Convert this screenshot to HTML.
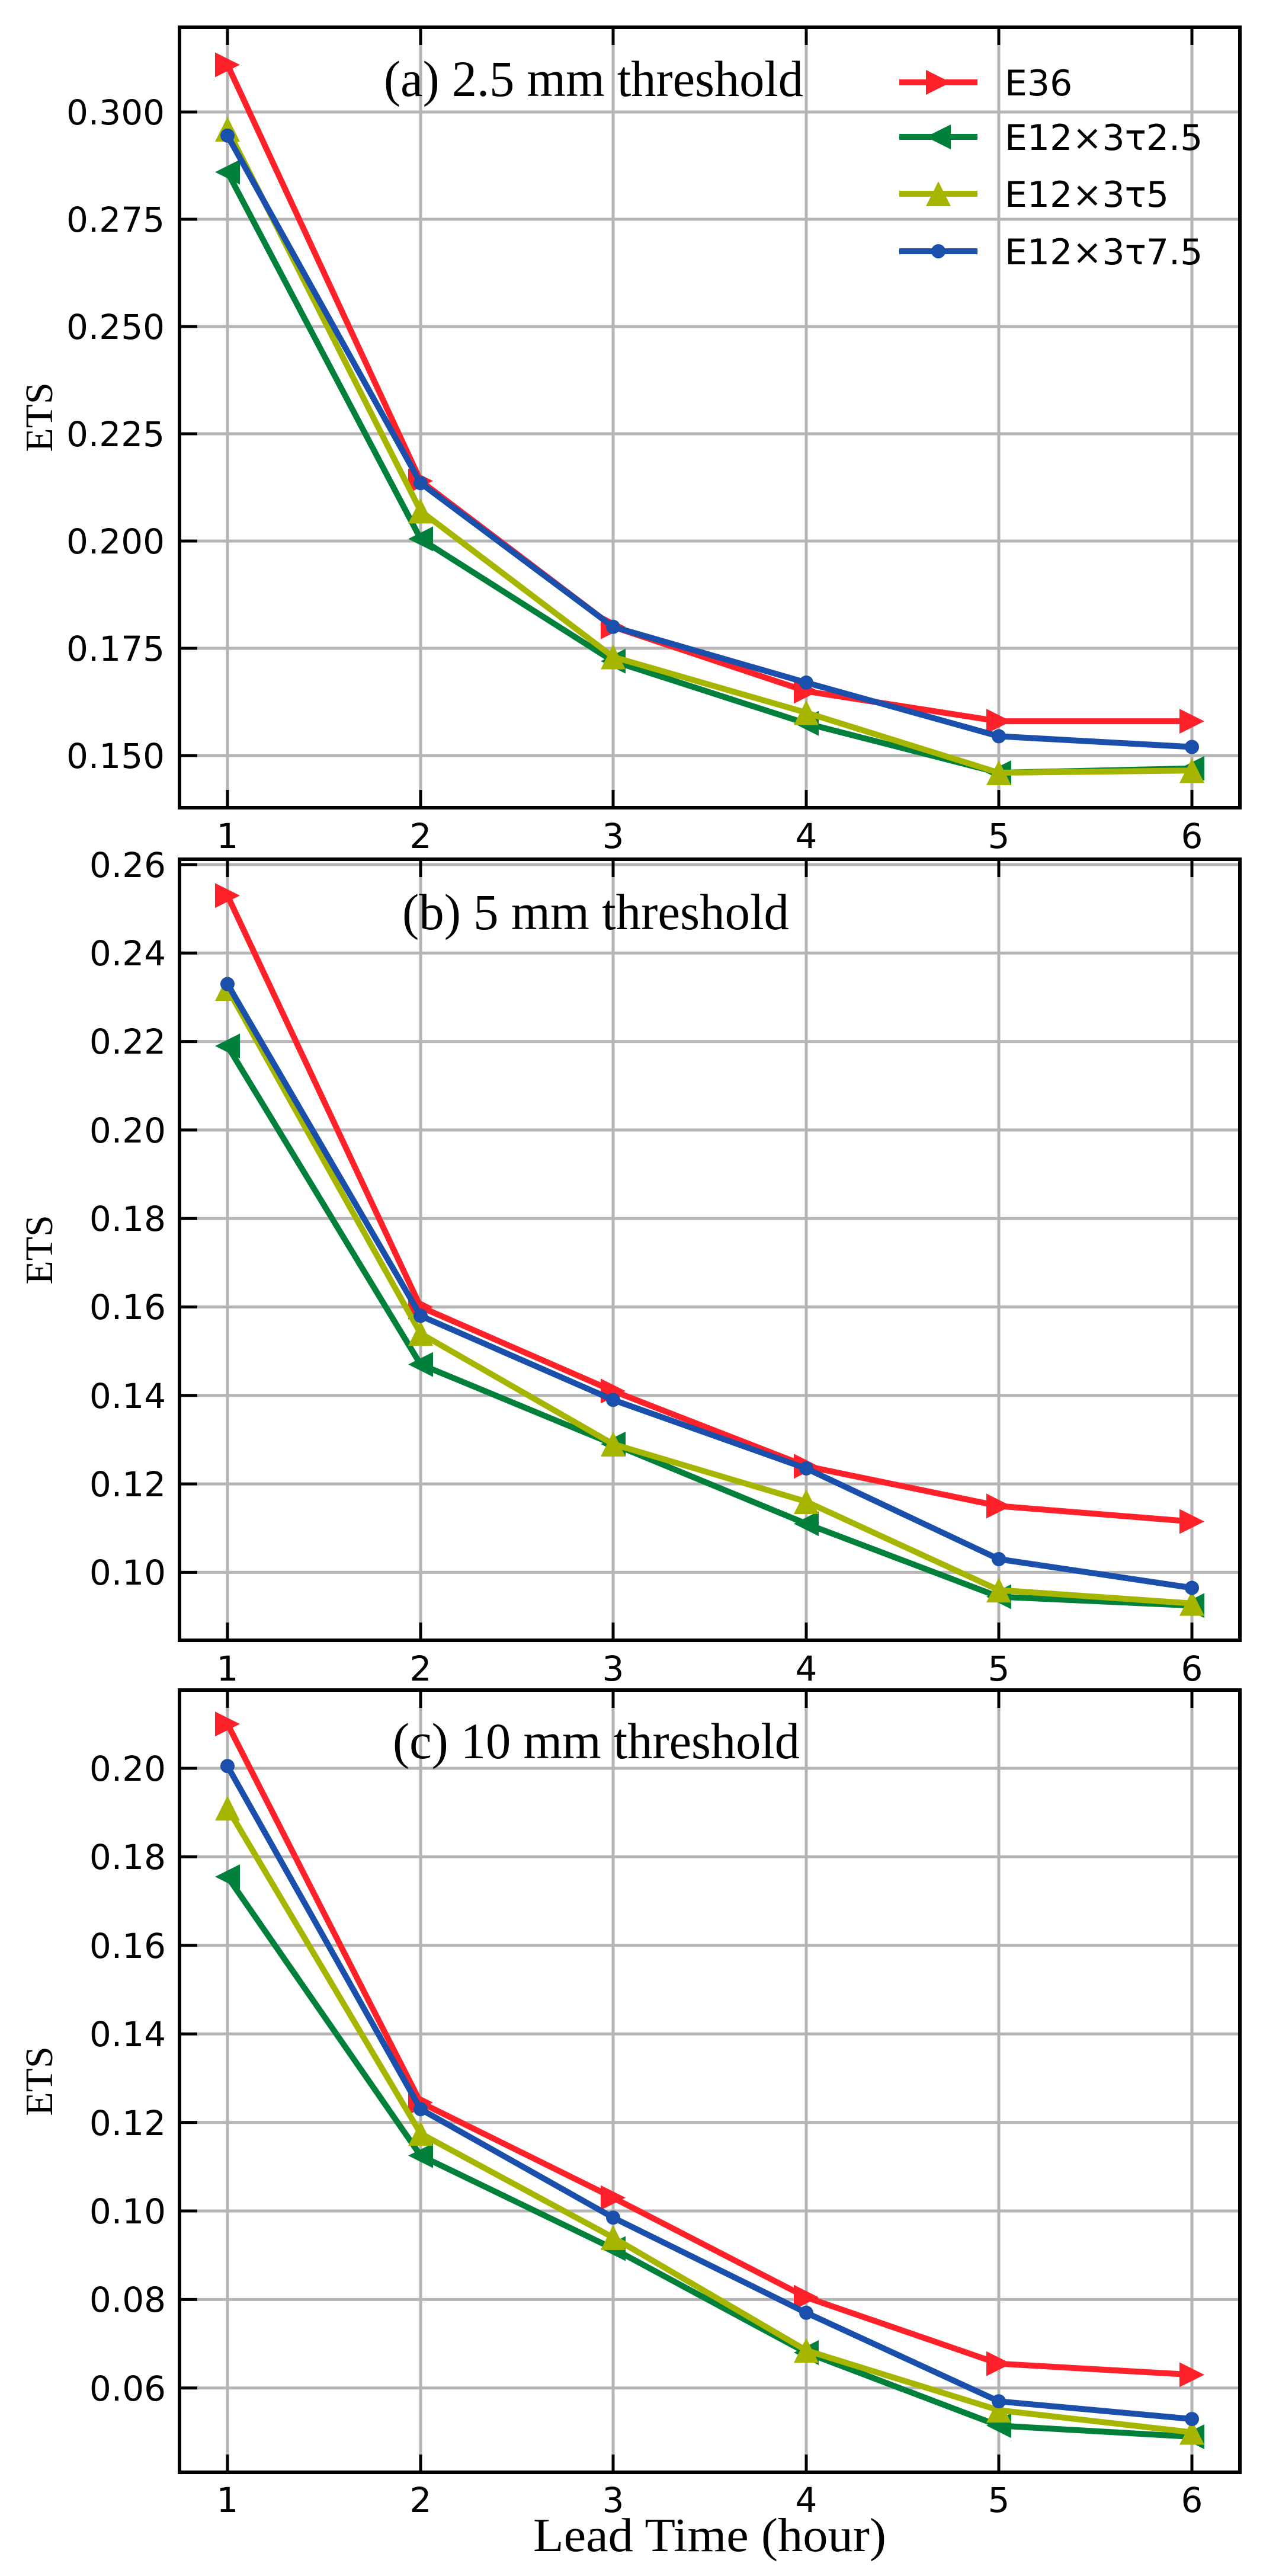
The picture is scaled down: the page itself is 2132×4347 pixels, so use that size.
<!DOCTYPE html>
<html><head><meta charset="utf-8">
<style>
html,body{margin:0;padding:0;background:#fff;}
svg{display:block;}
.tk{font-family:"DejaVu Sans",sans-serif;font-size:58px;fill:#000;}
.lg{font-family:"DejaVu Sans",sans-serif;font-size:60px;fill:#000;}
.sf{font-family:"Liberation Serif",serif;fill:#000;}
</style></head>
<body>
<svg id="s" xmlns="http://www.w3.org/2000/svg" width="2132" height="4347" viewBox="0 0 2132 4347">
<rect width="2132" height="4347" fill="#fff"/>
<g id="grid"></g>
<g id="series"></g>
<g id="axes"></g>
<!-- titles -->
<text class="sf" x="648" y="162" font-size="86" textLength="708" lengthAdjust="spacingAndGlyphs">(a) 2.5 mm threshold</text>
<text class="sf" x="679" y="1568" font-size="86" textLength="653" lengthAdjust="spacingAndGlyphs">(b) 5 mm threshold</text>
<text class="sf" x="663" y="2967" font-size="86" textLength="687" lengthAdjust="spacingAndGlyphs">(c) 10 mm threshold</text>
<!-- ETS labels -->
<text class="sf" font-size="66" text-anchor="middle" transform="translate(88,704) rotate(-90)">ETS</text>
<text class="sf" font-size="66" text-anchor="middle" transform="translate(88,2109) rotate(-90)">ETS</text>
<text class="sf" font-size="66" text-anchor="middle" transform="translate(88,3512) rotate(-90)">ETS</text>
<!-- y tick labels (a) -->
<g class="tk" text-anchor="end">
<text x="278" y="210">0.300</text>
<text x="278" y="391">0.275</text>
<text x="278" y="572">0.250</text>
<text x="278" y="753">0.225</text>
<text x="278" y="934">0.200</text>
<text x="278" y="1115">0.175</text>
<text x="278" y="1296">0.150</text>
<!-- (b) -->
<text x="280" y="1480">0.26</text>
<text x="280" y="1629">0.24</text>
<text x="280" y="1778">0.22</text>
<text x="280" y="1928">0.20</text>
<text x="280" y="2077">0.18</text>
<text x="280" y="2226">0.16</text>
<text x="280" y="2376">0.14</text>
<text x="280" y="2525">0.12</text>
<text x="280" y="2674">0.10</text>
<!-- (c) -->
<text x="280" y="3005">0.20</text>
<text x="280" y="3154">0.18</text>
<text x="280" y="3304">0.16</text>
<text x="280" y="3453">0.14</text>
<text x="280" y="3603">0.12</text>
<text x="280" y="3752">0.10</text>
<text x="280" y="3901">0.08</text>
<text x="280" y="4051">0.06</text>
</g>
<!-- x tick labels -->
<g class="tk" text-anchor="middle">
<text x="384" y="1431">1</text><text x="710" y="1431">2</text><text x="1035" y="1431">3</text><text x="1361" y="1431">4</text><text x="1686" y="1431">5</text><text x="2012" y="1431">6</text>
<text x="384" y="2836">1</text><text x="710" y="2836">2</text><text x="1035" y="2836">3</text><text x="1361" y="2836">4</text><text x="1686" y="2836">5</text><text x="2012" y="2836">6</text>
<text x="384" y="4239">1</text><text x="710" y="4239">2</text><text x="1035" y="4239">3</text><text x="1361" y="4239">4</text><text x="1686" y="4239">5</text><text x="2012" y="4239">6</text>
</g>
<text class="sf" x="900" y="4305" font-size="80" textLength="596" lengthAdjust="spacingAndGlyphs">Lead Time (hour)</text>
<!-- legend -->
<g id="legend"></g>
<g class="lg">
<text x="1696" y="161">E36</text>
<text x="1696" y="253">E12×3τ2.5</text>
<text x="1696" y="349">E12×3τ5</text>
<text x="1696" y="446">E12×3τ7.5</text>
</g>
</svg>
<script>
var NS="http://www.w3.org/2000/svg";
function el(p,t,a){var e=document.createElementNS(NS,t);for(var k in a)e.setAttribute(k,a[k]);p.appendChild(e);return e;}
var grid=document.getElementById('grid'),ser=document.getElementById('series'),ax=document.getElementById('axes'),leg=document.getElementById('legend');
var L=303,R=2093;
var xs=[384,710,1035,1361,1686,2012];
var cols=['#fe2129','#00803a','#a6b500','#1a4fab'];
var mk=['r','l','u','o'];
var panels=[
 {top:46,bot:1363,y0:189,v0:0.300,dv:0.025,px:181,ticks:[0.300,0.275,0.250,0.225,0.200,0.175,0.150],
  d:[[0.311,0.214,0.180,0.165,0.158,0.158],[0.286,0.2005,0.172,0.1575,0.146,0.147],[0.296,0.207,0.173,0.160,0.146,0.1465],[0.2945,0.2135,0.180,0.167,0.1545,0.152]]},
 {top:1450,bot:2768,y0:1459,v0:0.26,dv:0.02,px:149.3,ticks:[0.26,0.24,0.22,0.20,0.18,0.16,0.14,0.12,0.10],
  d:[[0.253,0.160,0.141,0.124,0.115,0.1115],[0.219,0.147,0.129,0.111,0.0945,0.0925],[0.232,0.154,0.129,0.116,0.096,0.093],[0.233,0.158,0.139,0.1235,0.103,0.0965]]},
 {top:2852,bot:4172,y0:2984,v0:0.20,dv:0.02,px:149.4,ticks:[0.20,0.18,0.16,0.14,0.12,0.10,0.08,0.06],
  d:[[0.210,0.1245,0.103,0.0805,0.0655,0.063],[0.1755,0.1125,0.0915,0.068,0.0515,0.049],[0.191,0.1175,0.094,0.0685,0.055,0.050],[0.2005,0.123,0.0985,0.077,0.057,0.053]]}
];
function marker(g,t,x,y,c){
 var h=21;
 if(t=='r')el(g,'polygon',{points:(x-h)+','+(y-h)+' '+(x+h)+','+y+' '+(x-h)+','+(y+h),fill:c});
 else if(t=='l')el(g,'polygon',{points:(x+h)+','+(y-h)+' '+(x-h)+','+y+' '+(x+h)+','+(y+h),fill:c});
 else if(t=='u')el(g,'polygon',{points:(x-h)+','+(y+h)+' '+x+','+(y-h)+' '+(x+h)+','+(y+h),fill:c});
 else el(g,'circle',{cx:x,cy:y,r:12,fill:c});
}
panels.forEach(function(p){
 function Y(v){return p.y0+(p.v0-v)/p.dv*p.px;}
 p.ticks.forEach(function(t){var y=Y(t);
  el(grid,'line',{x1:L,x2:R,y1:y,y2:y,stroke:'#b5b5b5','stroke-width':5});
  el(ax,'line',{x1:L,x2:L+30,y1:y,y2:y,stroke:'#000','stroke-width':5});
 });
 xs.forEach(function(x){
  el(grid,'line',{x1:x,x2:x,y1:p.top,y2:p.bot,stroke:'#b5b5b5','stroke-width':5});
  el(ax,'line',{x1:x,x2:x,y1:p.bot,y2:p.bot-30,stroke:'#000','stroke-width':5});
  el(ax,'line',{x1:x,x2:x,y1:p.top,y2:p.top+30,stroke:'#000','stroke-width':5});
 });
 el(ax,'rect',{x:L,y:p.top,width:R-L,height:p.bot-p.top,fill:'none',stroke:'#000','stroke-width':6});
 p.d.forEach(function(s,i){
  var pts=s.map(function(v,j){return xs[j]+','+Y(v).toFixed(1);}).join(' ');
  el(ser,'polyline',{points:pts,fill:'none',stroke:cols[i],'stroke-width':10,'stroke-linejoin':'miter'});
  s.forEach(function(v,j){marker(ser,mk[i],xs[j],Y(v),cols[i]);});
 });
});
var ly=[139,231,327,424];
ly.forEach(function(y,i){
 el(leg,'line',{x1:1518,x2:1650,y1:y,y2:y,stroke:cols[i],'stroke-width':10});
 marker(leg,mk[i],1584,y,cols[i]);
});
</script>
</body></html>
